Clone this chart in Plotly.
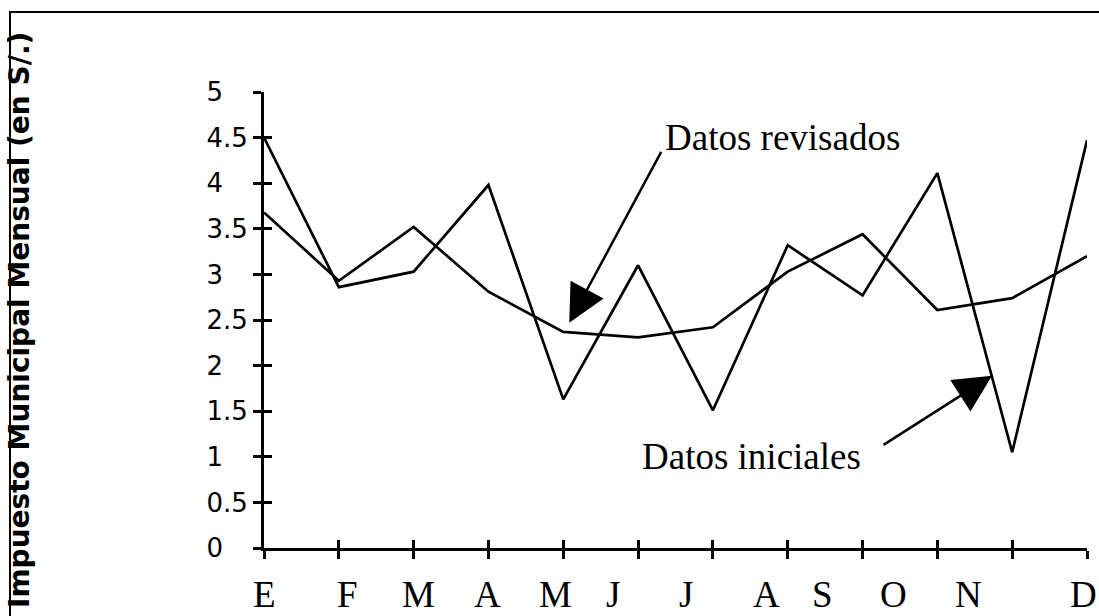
import plotly.graph_objects as go

# ---- data ----
months = ["E", "F", "M", "A", "M", "J", "J", "A", "S", "O", "N", "D"]
datos_iniciales = [4.50, 2.86, 3.03, 3.98, 1.63, 3.10, 1.51, 3.32, 2.77, 4.11, 1.05, 4.47]
datos_revisados = [3.68, 2.93, 3.52, 2.81, 2.37, 2.31, 2.42, 3.03, 3.44, 2.61, 2.74, 3.20]
y_ticks = [0, 0.5, 1, 1.5, 2, 2.5, 3, 3.5, 4, 4.5, 5]
y_tick_text = ["0", "0.5", "1", "1.5", "2", "2.5", "3", "3.5", "4", "4.5", "5"]

# ---- layout constants ----
x_idx = list(range(len(months)))
month_label_x = [0.01, 1.11, 2.06, 2.99, 3.90, 4.67, 5.64, 6.71, 7.47, 8.41, 9.41, 10.95]
NB = "\u00a0"
tick_text_padded = [t if "." in t else t + NB * 3 for t in y_tick_text]

W, H = 1099, 616
ML, MR, MT, MB = 264, 12, 92, 68
PW, PH = W - ML - MR, H - MT - MB

def px_x(p):
    return (p - ML) / PW

def px_y(p):
    return (H - MB - p) / PH

line_style = dict(color="black", width=2.7)

fig = go.Figure()
fig.add_trace(go.Scatter(x=x_idx, y=datos_iniciales, mode="lines", line=line_style,
                         name="Datos iniciales", showlegend=False))
fig.add_trace(go.Scatter(x=x_idx, y=datos_revisados, mode="lines", line=line_style,
                         name="Datos revisados", showlegend=False))
# invisible trace to bind overlay axes (for cross ticks)
fig.add_trace(go.Scatter(x=[None], y=[None], xaxis="x2", yaxis="y2", showlegend=False,
                         hoverinfo="skip"))

axis_common = dict(showgrid=False, zeroline=False, tickcolor="black", tickwidth=2.5, ticklen=8)

fig.update_layout(
    width=W, height=H,
    margin=dict(l=ML, r=MR, t=MT, b=MB),
    paper_bgcolor="white", plot_bgcolor="white",
    showlegend=False,
    xaxis=dict(range=[0, 11], tickmode="array", tickvals=x_idx, ticks="outside",
               showticklabels=False, showline=True, linecolor="black", linewidth=3,
               **axis_common),
    yaxis=dict(range=[0, 5], tickmode="array", tickvals=y_ticks, ticktext=tick_text_padded,
               ticks="outside", showline=True, linecolor="black", linewidth=3,
               tickfont=dict(family="DejaVu Sans", size=26, color="black"),
               **axis_common),
    xaxis2=dict(range=[0, 11], overlaying="x", anchor="y", side="bottom", tickmode="array",
                tickvals=x_idx, ticks="inside", showticklabels=False, showline=False,
                **axis_common),
    yaxis2=dict(range=[0, 5], overlaying="y", anchor="x", side="left", tickmode="array",
                tickvals=y_ticks, ticks="inside", showticklabels=False, showline=False,
                **axis_common),
)

# month labels
for xm, lab in zip(month_label_x, months):
    fig.add_annotation(x=xm, y=px_y(594), xref="x", yref="paper", text=lab, showarrow=False,
                       xanchor="center", yanchor="middle",
                       font=dict(family="Liberation Serif", size=37, color="black"))

# y axis title
fig.add_annotation(x=px_x(19), y=px_y(320), xref="paper", yref="paper",
                   text="Impuesto Municipal Mensual (en S/.)", textangle=-90, showarrow=False,
                   xanchor="center", yanchor="middle",
                   font=dict(family="DejaVu Sans", size=28, color="black", weight="bold"))

serif = dict(family="Liberation Serif", size=37, color="black")
fig.add_annotation(x=5.33, y=4.50, xref="x", yref="y", text="Datos revisados", showarrow=False,
                   xanchor="left", yanchor="middle", font=serif)
fig.add_annotation(x=5.03, y=1.00, xref="x", yref="y", text="Datos iniciales", showarrow=False,
                   xanchor="left", yanchor="middle", font=serif)

arrow_style = dict(showarrow=True, arrowhead=2, arrowsize=3.0, arrowwidth=2.5,
                   arrowcolor="black", text="", xref="x", yref="y", axref="x", ayref="y")
fig.add_annotation(x=4.08, y=2.47, ax=5.32, ay=4.36, **arrow_style)
fig.add_annotation(x=9.73, y=1.89, ax=8.26, ay=1.12, **arrow_style)

# outer frame (top and left edges visible)
fig.add_shape(type="rect", xref="paper", yref="paper",
              x0=px_x(10), x1=px_x(W + 20), y0=px_y(H + 20), y1=px_y(12),
              line=dict(color="black", width=2), layer="below")

fig.write_html("out.html", config={"displayModeBar": False},
               post_script="document.body.style.margin='0';")
